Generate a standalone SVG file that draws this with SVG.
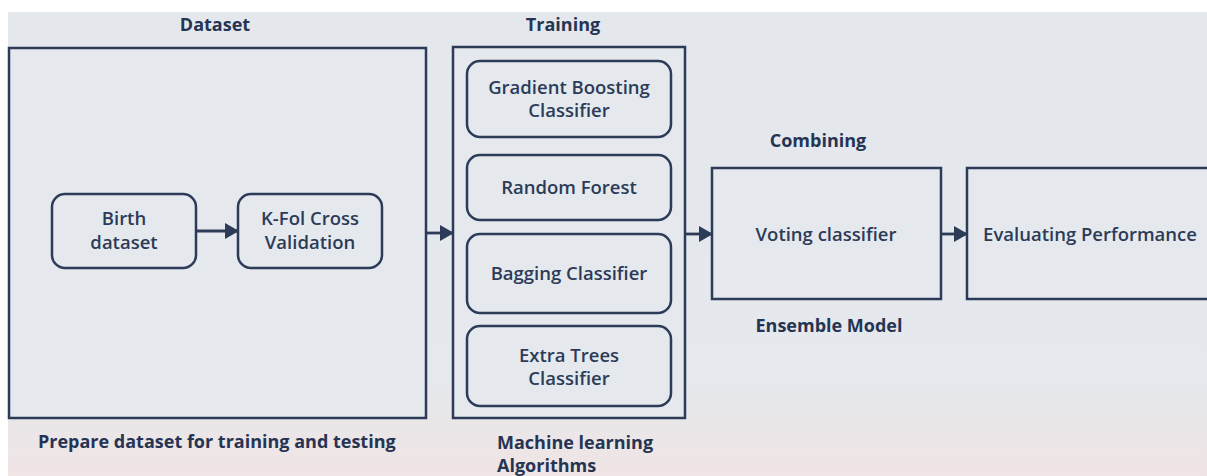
<svg xmlns="http://www.w3.org/2000/svg" width="1207" height="476" viewBox="0 0 1207 476">
  <defs>
    <linearGradient id="bg" x1="0" y1="0" x2="0" y2="1">
      <stop offset="0" stop-color="#e4e8ec"/>
      <stop offset="0.8" stop-color="#e5e8ec"/>
      <stop offset="1" stop-color="#f0e4e4"/>
    </linearGradient>
    <marker id="arrow" viewBox="0 0 14 18" refX="13" refY="9" markerWidth="14" markerHeight="18" orient="auto" markerUnits="userSpaceOnUse">
      <path d="M0,1 L14,9 L0,17 Z" fill="#2c3b58"/>
    </marker>
    <style>
      .frame { fill: #e5e9ed; stroke: #2c3b58; stroke-width: 2.5; }
      .node { fill: #e5e9ed; stroke: #2c3b58; stroke-width: 2.5; }
      .title { font-family: "Open Sans", "Noto Sans", sans-serif; font-weight: 700; font-size: 18px; fill: #263453; }
      .label { font-family: "Open Sans", "Noto Sans", sans-serif; font-weight: 600; font-size: 18.5px; fill: #2c3b58; text-anchor: middle; }
      .conn { stroke: #2c3b58; stroke-width: 2.8; fill: none; marker-end: url(#arrow); }
    </style>
  </defs>

  <!-- page background -->
  <rect x="0" y="0" width="1207" height="476" fill="#ffffff"/>
  <rect x="8" y="12" width="1199" height="464" fill="url(#bg)"/>

  <!-- Dataset stage -->
  <g id="dataset">
    <text class="title" x="215" y="31" text-anchor="middle">Dataset</text>
    <rect class="frame" x="9" y="48" width="417" height="370"/>
    <text class="title" x="38" y="448">Prepare dataset for training and testing</text>
  </g>
  <g id="birth-dataset">
    <rect class="node" x="52" y="194" width="144" height="74" rx="13"/>
    <text class="label" x="124" y="225">Birth</text>
    <text class="label" x="124" y="249">dataset</text>
  </g>
  <g id="kfold">
    <rect class="node" x="238" y="194" width="144" height="74" rx="13"/>
    <text class="label" x="310" y="225">K-Fol Cross</text>
    <text class="label" x="310" y="249">Validation</text>
  </g>

  <!-- Training stage -->
  <g id="training">
    <text class="title" x="563" y="31" text-anchor="middle">Training</text>
    <rect class="frame" x="453" y="47" width="232" height="371"/>
    <text class="title" x="497" y="449">Machine learning</text>
    <text class="title" x="497" y="472">Algorithms</text>
  </g>
  <g id="gradient-boosting">
    <rect class="node" x="467" y="61" width="204" height="76" rx="13"/>
    <text class="label" x="569" y="94">Gradient Boosting</text>
    <text class="label" x="569" y="117">Classifier</text>
  </g>
  <g id="random-forest">
    <rect class="node" x="467" y="155" width="204" height="65" rx="13"/>
    <text class="label" x="569" y="194">Random Forest</text>
  </g>
  <g id="bagging">
    <rect class="node" x="467" y="234" width="204" height="79" rx="13"/>
    <text class="label" x="569" y="280">Bagging Classifier</text>
  </g>
  <g id="extra-trees">
    <rect class="node" x="467" y="326" width="204" height="80" rx="13"/>
    <text class="label" x="569" y="362">Extra Trees</text>
    <text class="label" x="569" y="385">Classifier</text>
  </g>

  <!-- Ensemble stage -->
  <g id="voting">
    <text class="title" x="818" y="147" text-anchor="middle">Combining</text>
    <rect class="frame" x="712" y="168" width="229" height="131"/>
    <text class="label" x="826" y="241">Voting classifier</text>
    <text class="title" x="829" y="332" text-anchor="middle">Ensemble Model</text>
  </g>
  <g id="evaluating">
    <rect class="frame" x="967" y="168" width="250" height="131"/>
    <text class="label" x="1090" y="241">Evaluating Performance</text>
  </g>

  <!-- connectors -->
  <g id="connectors">
    <line class="conn" x1="196" y1="231" x2="238" y2="231"/>
    <line class="conn" x1="426" y1="233" x2="453" y2="233"/>
    <line class="conn" x1="685" y1="234" x2="712" y2="234"/>
    <line class="conn" x1="941" y1="234" x2="967" y2="234"/>
  </g>
</svg>
